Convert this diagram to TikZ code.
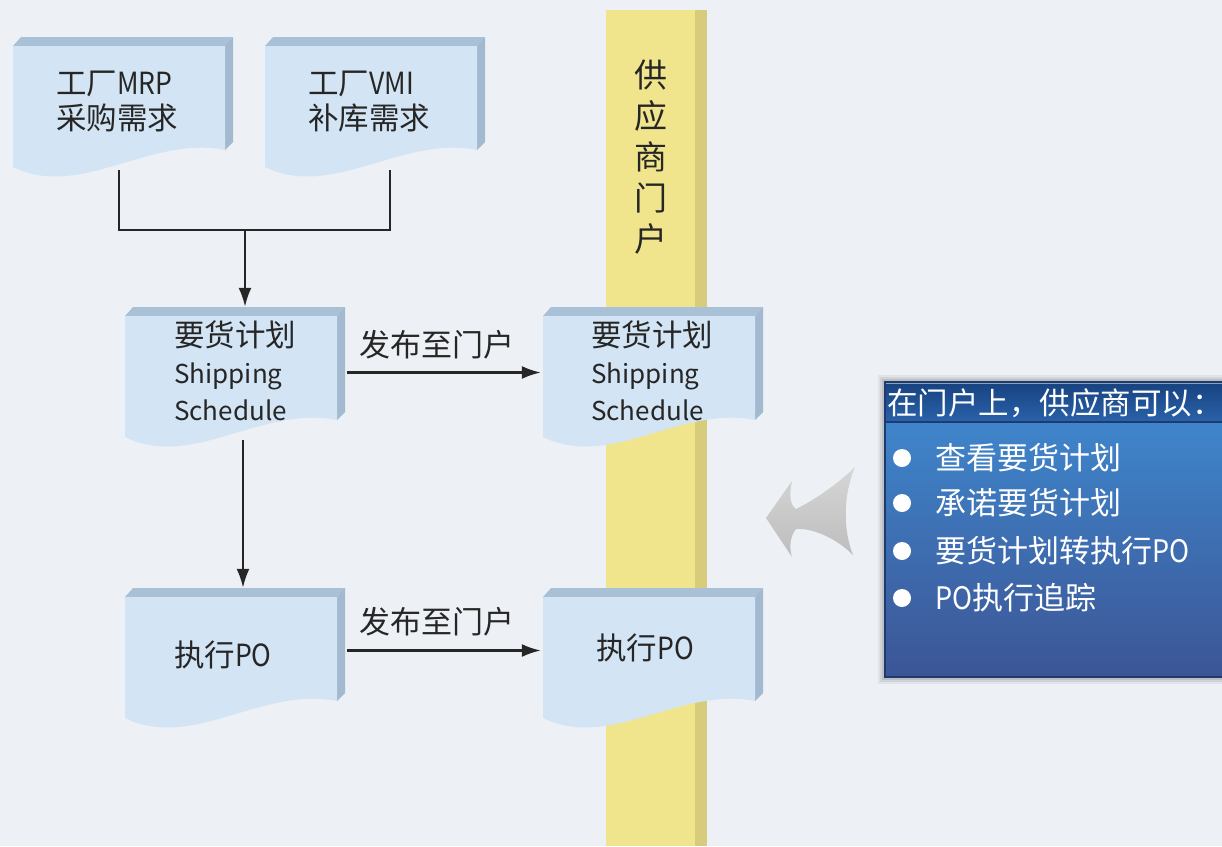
\documentclass[tikz,border=0pt]{standalone}
\usepackage{fontspec}
\setmainfont{Noto Sans CJK SC}
\newfontfamily\lat[FakeStretch=0.87]{Noto Sans CJK SC}
\usetikzlibrary{arrows.meta}
\definecolor{bg}{HTML}{EDF1F5}
\definecolor{docfront}{HTML}{D3E4F4}
\definecolor{docedge}{HTML}{A9C1D7}
\definecolor{docside}{HTML}{A2B9CF}
\definecolor{band}{HTML}{F0E58C}
\definecolor{bandside}{HTML}{D7CC7C}
\definecolor{hdrtop}{HTML}{17427F}
\definecolor{hdrbot}{HTML}{2A62AA}
\definecolor{bodytop}{HTML}{3F85CB}
\definecolor{bodybot}{HTML}{3C5595}
\definecolor{boxline}{HTML}{1C3B6E}
\definecolor{arrowgray}{HTML}{D6D6D6}
\definecolor{arrowgrayd}{HTML}{BDBDBD}
\newcommand\docbox[2]{%
  \fill[docedge] (#1,#2+9) -- (#1+8,#2) -- (#1+220,#2) -- (#1+212,#2+9) -- cycle;
  \fill[docside] (#1+212,#2+9) -- (#1+220,#2) -- (#1+220,#2+105) -- (#1+212,#2+113) -- cycle;
  \fill[docfront] (#1,#2+9) -- (#1+212,#2+9) -- (#1+212,#2+113) .. controls (#1+137,#2+98) and (#1+67,#2+163) .. (#1,#2+130) -- cycle;
}
\tikzset{
  body/.style={minimum width=212pt, minimum height=133pt, inner sep=0pt, draw=none},
  boxtext/.style={anchor=west, align=left, inner sep=0pt, text=black!85, font=\fontsize{30.5}{35}\selectfont},
  lbl/.style={inner sep=0pt, text=black!85, font=\fontsize{31}{35}\selectfont},
  conn/.style={line width=2.3pt, draw=black!85},
  arr/.style={conn, -{Latex[length=19pt,width=13pt]}},
  wtext/.style={anchor=west, inner sep=0pt, text=white, font=\fontsize{31}{35}\selectfont},
}
\begin{document}
\begin{tikzpicture}[x=1pt,y=-1pt]
\useasboundingbox (0,0) rectangle (1222,846);
\clip (0,0) rectangle (1222,846);
\fill[bg] (0,0) rectangle (1222,846);
% supplier portal band
\fill[band] (606,10) rectangle (695,846);
\fill[bandside] (695,10) rectangle (707,846);
\node[inner sep=0pt, align=center, text=black!85, font=\fontsize{33}{41}\selectfont] (portal) at (651,157) {供\\应\\商\\门\\户};
% document boxes
\docbox{13}{37}
\docbox{265}{37}
\docbox{125}{307}
\docbox{543}{307}
\docbox{125}{588}
\docbox{543}{588}
\node[body] (b1) at (13+106,37+66.5) {};
\node[body] (b2) at (265+106,37+66.5) {};
\node[body] (b3) at (125+106,307+66.5) {};
\node[body] (b4) at (543+106,307+66.5) {};
\node[body] (b5) at (125+106,588+66.5) {};
\node[body] (b6) at (543+106,588+66.5) {};
\node[boxtext] (t1) at (56,102) {工厂{\lat MRP}\\采购需求};
\node[boxtext] (t2) at (308,102) {工厂{\lat VMI}\\补库需求};
\node[boxtext, font=\fontsize{26}{37}\selectfont] (t3) at (174,371) {{\fontsize{30.5}{37}\selectfont 要货计划}\\Shipping\\Schedule};
\node[boxtext, font=\fontsize{26}{37}\selectfont] (t4) at (591,371) {{\fontsize{30.5}{37}\selectfont 要货计划}\\Shipping\\Schedule};
\node[boxtext] (t5) at (174,655) {执行{\lat PO}};
\node[boxtext] (t6) at (596,648) {执行{\lat PO}};
% connectors
\coordinate (j) at (245,230);
\draw[conn] (b1.south) |- (j) -| ([xshift=19pt]b2.south);
\draw[arr] (j) -- (j |- b3.north);
\draw[arr] ([xshift=12pt]b3.south) -- ([xshift=12pt]b3.south |- b5.north);
\draw[arr] ([xshift=10pt,yshift=1pt]b3.east) -- ([xshift=-2pt,yshift=1pt]b4.west);
\draw[arr] ([xshift=10pt,yshift=4pt]b5.east) -- ([xshift=-2pt,yshift=4pt]b6.west);
\node[lbl] (l1) at (437,345) {发布至门户};
\node[lbl] (l2) at (437,622) {发布至门户};
% gray curved arrow
\shade[top color=arrowgray, bottom color=arrowgrayd] (766,518) -- (792,481)
  .. controls (789,495) and (790,505) .. (796,509)
  .. controls (815,500) and (840,482) .. (855,467)
  .. controls (843,495) and (843,530) .. (853,555)
  .. controls (838,540) and (815,528) .. (796,529)
  .. controls (790,536) and (789,548) .. (792,557) -- cycle;
% info box shadow
\foreach \d/\o in {7/0.05,5/0.07,3/0.09,1/0.12}{
  \fill[black, opacity=\o] (885-\d,382-\d) rectangle (1240,677+\d);
}
\shade[top color=bodytop, bottom color=bodybot] (885,422) rectangle (1240,677);
\shade[top color=hdrtop, bottom color=hdrbot] (885,382) rectangle (1240,422);
\draw[white, opacity=0.5, line width=1pt] (886,383) -- (1240,383);
\draw[boxline, line width=1.5pt] (1240,382) -- (885,382) -- (885,677) -- (1240,677);
\draw[boxline, line width=1.2pt] (885,422) -- (1240,422);
\node[wtext, font=\fontsize{30.5}{36}\selectfont] (hdr) at (887,403) {在门户上，供应商可以：};
\foreach \yy in {458,503,551,598}{
  \fill[white] (902,\yy) circle[radius=9pt];
}
\node[wtext] (i1) at (935,458) {查看要货计划};
\node[wtext] (i2) at (935,503) {承诺要货计划};
\node[wtext] (i3) at (935,551) {要货计划转执行{\lat PO}};
\node[wtext] (i4) at (935,598) {{\lat PO}执行追踪};
\end{tikzpicture}
\end{document}
